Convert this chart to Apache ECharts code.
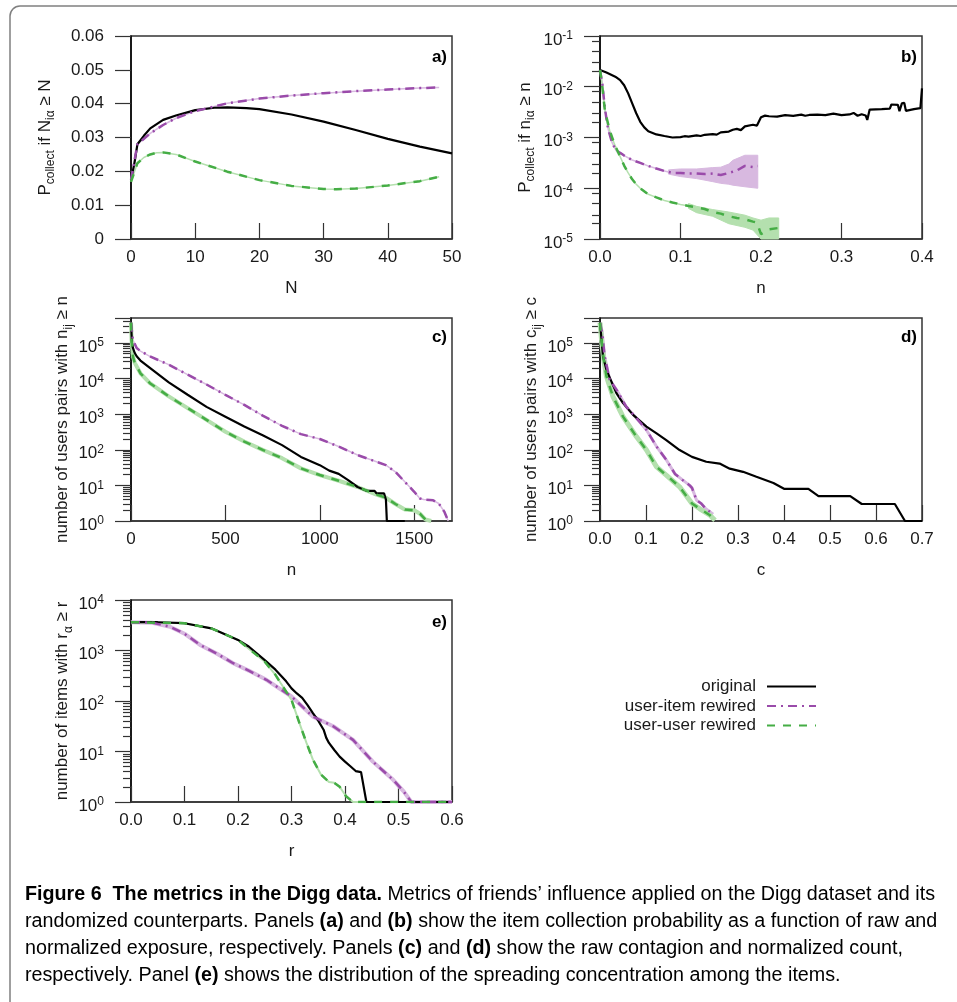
<!DOCTYPE html>
<html>
<head>
<meta charset="utf-8">
<title>Figure 6 - metrics in the Digg data</title>
<script src="https://cdn.jsdelivr.net/npm/echarts@6/dist/echarts.min.js"></script>
<style>
  html, body { margin: 0; padding: 0; background: #fff; }
  #chart { width: 957px; height: 1002px; }
</style>
</head>
<body>
<div id="chart"></div>
<script>
// ---- panel a: P_collect vs N (linear) ----
const aOriginal = [[0, 0.0175], [0.5, 0.022], [1, 0.028], [2, 0.0305], [3, 0.0327], [5, 0.0352], [7, 0.0365], [10, 0.0381], [13, 0.0388], [15, 0.0389], [18, 0.0387], [20, 0.0384], [25, 0.0368], [30, 0.0347], [35, 0.0322], [40, 0.0296], [45, 0.0273], [50, 0.0253]];
const aUserItem = [[0, 0.0175], [1, 0.028], [3, 0.0312], [5, 0.0337], [7, 0.0357], [10, 0.0378], [15, 0.0401], [20, 0.0415], [25, 0.0424], [30, 0.0431], [35, 0.0437], [40, 0.0442], [45, 0.0446], [48, 0.0448]];
const aUserUser = [[0, 0.0169], [1, 0.0224], [2, 0.0241], [3, 0.025], [4, 0.0255], [5, 0.0256], [7, 0.025], [10, 0.0229], [15, 0.0199], [20, 0.0174], [25, 0.0157], [30, 0.0148], [32, 0.0147], [35, 0.0149], [40, 0.0158], [45, 0.0171], [48, 0.0184]];

// ---- panel b: P_collect vs normalized exposure (log y) ----
const bOriginal = [[0, 0.0214], [0.008, 0.019], [0.019, 0.0158], [0.025, 0.0135], [0.03, 0.0107], [0.035, 0.0074], [0.04, 0.0047], [0.045, 0.003], [0.05, 0.00204], [0.055, 0.00158], [0.06, 0.00133], [0.07, 0.00115], [0.08, 0.00107], [0.09, 0.001], [0.1, 0.00102], [0.105, 0.00106], [0.11, 0.00104], [0.12, 0.0011], [0.125, 0.00107], [0.13, 0.00113], [0.14, 0.00117], [0.145, 0.00114], [0.15, 0.00126], [0.16, 0.00131], [0.165, 0.00142], [0.17, 0.00148], [0.175, 0.0014], [0.18, 0.00166], [0.19, 0.00178], [0.195, 0.00172], [0.2, 0.00251], [0.205, 0.0027], [0.21, 0.00262], [0.22, 0.00257], [0.23, 0.00275], [0.24, 0.00266], [0.25, 0.00282], [0.255, 0.00268], [0.26, 0.00278], [0.27, 0.00282], [0.28, 0.00275], [0.29, 0.00295], [0.3, 0.00275], [0.31, 0.00285], [0.315, 0.00305], [0.32, 0.00268], [0.325, 0.00288], [0.33, 0.00272], [0.332, 0.00222], [0.335, 0.00355], [0.35, 0.00362], [0.36, 0.00372], [0.362, 0.00447], [0.37, 0.0044], [0.372, 0.0033], [0.375, 0.0047], [0.378, 0.0048], [0.38, 0.00335], [0.39, 0.00362], [0.398, 0.0038], [0.4, 0.0093]];
const bUserItem = [[0, 0.0214], [0.003, 0.0112], [0.006, 0.0038], [0.01, 0.00148], [0.015, 7.9e-4], [0.02, 5.5e-4], [0.025, 5.0e-4], [0.03, 4.4e-4], [0.04, 3.6e-4], [0.05, 3.16e-4], [0.06, 2.75e-4], [0.07, 2.45e-4], [0.08, 2.19e-4], [0.09, 2.0e-4], [0.1, 2.0e-4], [0.11, 1.95e-4], [0.12, 1.95e-4], [0.13, 1.9e-4], [0.14, 1.95e-4], [0.15, 1.82e-4], [0.16, 2.0e-4], [0.17, 2.24e-4], [0.18, 2.75e-4], [0.19, 2.63e-4], [0.196, 2.75e-4]];
const bUserUser = [[0, 0.0214], [0.002, 0.0135], [0.006, 0.00347], [0.012, 0.00138], [0.018, 7.4e-4], [0.025, 4.2e-4], [0.03, 2.8e-4], [0.035, 2.0e-4], [0.04, 1.5e-4], [0.045, 1.2e-4], [0.05, 1.0e-4], [0.06, 7.6e-5], [0.07, 6.6e-5], [0.08, 5.75e-5], [0.09, 5.25e-5], [0.1, 4.8e-5], [0.11, 4.47e-5], [0.12, 4.17e-5], [0.13, 3.9e-5], [0.14, 3.4e-5], [0.15, 3.16e-5], [0.16, 2.8e-5], [0.17, 2.6e-5], [0.18, 2.45e-5], [0.19, 2.2e-5], [0.195, 2.1e-5], [0.2, 1.25e-5], [0.205, 1.4e-5], [0.21, 1.55e-5], [0.222, 1.65e-5]];
// error bands [n, low, high]
const bUserItemBand = [[0.085, 1.9e-4, 2.3e-4], [0.1, 1.7e-4, 2.4e-4], [0.12, 1.55e-4, 2.4e-4], [0.14, 1.35e-4, 2.55e-4], [0.15, 1.25e-4, 2.6e-4], [0.16, 1.2e-4, 3.0e-4], [0.165, 1.15e-4, 3.55e-4], [0.18, 1.07e-4, 4.47e-4], [0.196, 1.0e-4, 4.47e-4]];
const bUserUserBand = [[0.11, 4.0e-5, 5.0e-5], [0.12, 3.3e-5, 4.4e-5], [0.14, 2.8e-5, 3.8e-5], [0.16, 2.0e-5, 3.4e-5], [0.18, 1.7e-5, 2.95e-5], [0.19, 1.5e-5, 2.6e-5], [0.2, 1.0e-5, 2.35e-5], [0.21, 1.0e-5, 2.6e-5], [0.222, 1.0e-5, 2.6e-5]];

// ---- panel c: pairs with n_ij >= n (log y) ----
const cOriginal = [[0, 3.7e5], [5, 1e5], [10, 7.2e4], [20, 5.2e4], [30, 4.2e4], [50, 3.2e4], [100, 2.0e4], [200, 7800], [300, 3500], [400, 1600], [500, 850], [600, 450], [700, 250], [800, 135], [900, 63], [1000, 37], [1050, 26], [1100, 21], [1150, 14], [1200, 9], [1250, 7], [1290, 7], [1300, 6], [1340, 6], [1350, 4], [1355, 1], [1450, 1]];
const cUserItem = [[0, 3.7e5], [10, 1.23e5], [30, 7.2e4], [50, 5.9e4], [100, 4.2e4], [200, 2.45e4], [300, 1.29e4], [400, 6800], [500, 3470], [600, 1820], [700, 890], [800, 470], [900, 275], [1000, 200], [1100, 123], [1200, 71], [1300, 46], [1350, 37], [1400, 24], [1450, 12.6], [1500, 6.6], [1530, 4.3], [1550, 4.0], [1600, 3.8], [1630, 3.1], [1660, 1.8], [1680, 1]];
const cUserUser = [[0, 3.7e5], [3, 1.2e5], [10, 4.2e4], [20, 2.75e4], [50, 1.4e4], [100, 7400], [200, 3160], [300, 1480], [400, 690], [500, 320], [600, 170], [700, 98], [800, 58], [900, 30], [1000, 19.5], [1100, 13.5], [1200, 9], [1300, 5.5], [1350, 4.5], [1400, 3], [1450, 2.1], [1500, 2], [1530, 1.6], [1560, 1.1], [1590, 1]];

// ---- panel d: pairs with c_ij >= c (log y) ----
const dOriginal = [[0, 3.7e5], [0.004, 1e5], [0.0065, 4.2e4], [0.0138, 1.78e4], [0.0247, 8300], [0.0356, 3900], [0.05, 2040], [0.072, 955], [0.101, 447], [0.123, 288], [0.144, 186], [0.173, 98], [0.2, 63], [0.231, 46], [0.26, 41], [0.282, 29.5], [0.311, 24], [0.34, 17.4], [0.377, 11.7], [0.4, 8], [0.453, 8], [0.475, 5], [0.544, 5], [0.569, 3], [0.641, 3], [0.663, 1], [0.7, 1]];
const dUserItem = [[0, 3.7e5], [0.005, 1.9e5], [0.01, 4.2e4], [0.021, 9300], [0.036, 4800], [0.057, 1620], [0.079, 780], [0.101, 360], [0.123, 123], [0.145, 50], [0.163, 21], [0.18, 14], [0.195, 10], [0.2, 8.5], [0.21, 3.8], [0.22, 3.1], [0.23, 2.2], [0.246, 1.55]];
const dUserUser = [[0, 3.7e5], [0.004, 1e5], [0.008, 3.5e4], [0.014, 1.15e4], [0.028, 3160], [0.05, 850], [0.079, 235], [0.101, 98], [0.123, 33], [0.144, 19.5], [0.173, 9.1], [0.2, 3.1], [0.217, 2.2], [0.239, 1.45], [0.25, 1.05]];

// ---- panel e: items with r_alpha >= r (log y) ----
const eOriginal = [[0, 3630], [0.05, 3630], [0.1, 3470], [0.15, 2750], [0.2, 1620], [0.22, 1200], [0.25, 645], [0.27, 417], [0.29, 245], [0.3, 178], [0.31, 141], [0.32, 115], [0.33, 83], [0.34, 57.5], [0.35, 40.7], [0.36, 27], [0.365, 18.6], [0.37, 14.8], [0.38, 10.7], [0.39, 7.9], [0.4, 6.3], [0.41, 5.1], [0.42, 4.1], [0.43, 3.9], [0.44, 1], [0.6, 1]];
const eUserItem = [[0, 3630], [0.04, 3550], [0.073, 2950], [0.1, 2150], [0.129, 1290], [0.16, 870], [0.191, 560], [0.22, 400], [0.253, 263], [0.3, 123], [0.34, 49], [0.378, 31.6], [0.415, 17], [0.452, 6.3], [0.49, 2.75], [0.51, 1.6], [0.524, 1], [0.6, 1]];
const eUserUser = [[0, 3630], [0.1, 3470], [0.15, 2750], [0.2, 1620], [0.25, 600], [0.27, 330], [0.28, 224], [0.3, 105], [0.315, 36], [0.328, 14.8], [0.34, 6.9], [0.355, 3.5], [0.37, 2.5], [0.38, 2.4], [0.39, 2.0], [0.402, 1.3], [0.415, 1], [0.6, 1]];

const seriesNames = ['original', 'user-item rewired', 'user-user rewired'];

const captionLines = [
  [['Figure 6  The metrics in the Digg data.', true], [' Metrics of friends\u2019 influence applied on the Digg dataset and its', false]],
  [['randomized counterparts. Panels ', false], ['(a)', true], [' and ', false], ['(b)', true], [' show the item collection probability as a function of raw and', false]],
  [['normalized exposure, respectively. Panels ', false], ['(c)', true], [' and ', false], ['(d)', true], [' show the raw contagion and normalized count,', false]],
  [['respectively. Panel ', false], ['(e)', true], [' shows the distribution of the spreading concentration among the items.', false]]
];

// ---- styling ----
const FONT = '"Liberation Sans", Arial, sans-serif';
const CAP_FONT = '"Liberation Sans Narrow", "Liberation Sans", sans-serif';
const CAP_SIZE = 19.5;
const INK = '#1a1a1a';
const FRAME = '#333';
const BLACK = '#000000';
const PURPLE = '#9A4BAA';
const PURPLE_LIGHT = '#D8B9E0';
const GREEN = '#45AD45';
const GREEN_LIGHT = '#B4E0AE';

const gridBoxes = [
  { left: 131, top: 36, width: 321, height: 203 },
  { left: 600, top: 36, width: 322, height: 203 },
  { left: 131, top: 318, width: 321, height: 203 },
  { left: 600, top: 318, width: 322, height: 203 },
  { left: 131, top: 600, width: 321, height: 202 }
];

const subRich = {
  s: { fontSize: 12, fontFamily: FONT, color: INK, padding: [12, 0, 0, 0], lineHeight: 14 }
};
const nameStyle = { fontSize: 17, fontFamily: FONT, color: INK, lineHeight: 20, rich: subRich };
const nameStyleMixed = Object.assign({}, nameStyle, {
  rich: Object.assign({ n: { fontSize: 17, fontFamily: FONT, color: INK, lineHeight: 20 } }, subRich)
});

const powRich = {
  b: { fontSize: 17, fontFamily: FONT, color: INK, lineHeight: 17, padding: [8, 0, 0, 0] },
  p: { fontSize: 12, fontFamily: FONT, color: INK, lineHeight: 12 }
};

function powLabel(v) {
  const e = Math.log10(v);
  const r = Math.round(e);
  if (Math.abs(e - r) > 1e-6) return '';
  return '{b|10}{p|' + r + '}';
}

function xAxisOf(i, min, max, interval, name, fmt, showMax) {
  return {
    gridIndex: i, type: 'value', position: 'bottom', min: min, max: max, interval: interval,
    name: name, nameLocation: 'middle', nameGap: 41,
    nameTextStyle: { fontSize: 17, fontFamily: FONT, color: INK },
    axisLine: { show: true, onZero: false, lineStyle: { color: FRAME, width: 1.5 } },
    axisTick: { show: true, inside: true, length: 16, lineStyle: { color: FRAME, width: 1.2 } },
    axisLabel: { margin: 10, fontSize: 17, fontFamily: FONT, color: INK, formatter: fmt, showMaxLabel: showMax, hideOverlap: false },
    splitLine: { show: false }
  };
}

function yLogOf(i, min, max, name, gap) {
  return {
    gridIndex: i, type: 'log', logBase: 10, position: 'left', min: min, max: max,
    name: name, nameLocation: 'middle', nameGap: gap, nameTextStyle: nameStyle,
    axisLine: { show: true, onZero: false, lineStyle: { color: BLACK, width: 1.5 } },
    axisTick: { show: true, inside: false, length: 16, lineStyle: { color: FRAME, width: 1.2 } },
    axisLabel: { margin: 27, formatter: powLabel, rich: powRich, hideOverlap: false },
    splitLine: { show: false }
  };
}

// second, label-less axis in log10 space that only carries the minor ticks
function minorAxisOf(i, min, max, ks) {
  const lo = Math.log10(min), hi = Math.log10(max);
  const vals = [];
  for (let d = Math.floor(lo); d < hi; d++) {
    ks.forEach(k => {
      const v = d + Math.log10(k);
      if (v > lo && v < hi) vals.push(v);
    });
  }
  return {
    gridIndex: i, type: 'value', position: 'left', min: lo, max: hi,
    axisLine: { show: false },
    axisLabel: { show: false },
    splitLine: { show: false },
    axisTick: { show: true, inside: false, length: 8, customValues: vals, lineStyle: { color: FRAME, width: 1.2 } }
  };
}

const fixed1 = v => v.toFixed(1);
const plain = v => String(v);
const allMinor = [2, 3, 4, 5, 6, 7, 8, 9];

const xAxes = [
  xAxisOf(0, 0, 50, 10, 'N', plain, true),
  xAxisOf(1, 0, 0.4, 0.1, 'n', fixed1, true),
  xAxisOf(2, 0, 1700, 500, 'n', plain, false),
  xAxisOf(3, 0, 0.7, 0.1, 'c', fixed1, true),
  xAxisOf(4, 0, 0.6, 0.1, 'r', fixed1, true)
];

const yAxes = [
  {
    gridIndex: 0, type: 'value', position: 'left', min: 0, max: 0.06, interval: 0.01,
    name: '{n|P}{s|collect}{n| if N}{s|i\u03b1}{n| \u2265 N}', nameLocation: 'middle', nameGap: 76,
    nameTextStyle: nameStyleMixed,
    axisLine: { show: true, onZero: false, lineStyle: { color: BLACK, width: 1.5 } },
    axisTick: { show: true, inside: false, length: 16, lineStyle: { color: FRAME, width: 1.2 } },
    axisLabel: { margin: 27, fontSize: 17, fontFamily: FONT, color: INK, hideOverlap: false },
    splitLine: { show: false }
  },
  yLogOf(1, 1e-5, 1e-1, '{n|P}{s|collect}{n| if n}{s|i\u03b1}{n| \u2265 n}', 65),
  yLogOf(2, 1, 5e5, 'number of users pairs with n{s|ij} \u2265 n', 54),
  yLogOf(3, 1, 5e5, 'number of users pairs with c{s|ij} \u2265 c', 53),
  yLogOf(4, 1, 1e4, 'number of items with r{s|\u03b1} \u2265 r', 54),
  minorAxisOf(1, 1e-5, 1e-1, [2, 3, 5, 8]),
  minorAxisOf(2, 1, 5e5, allMinor),
  minorAxisOf(3, 1, 5e5, allMinor),
  minorAxisOf(4, 1, 1e4, allMinor)
];
yAxes[1].nameTextStyle = nameStyleMixed;

const lineStyles = [
  { color: BLACK, width: 2.2, type: 'solid' },
  { color: PURPLE, width: 2.5, type: [9, 5, 2, 5] },
  { color: GREEN, width: 2.5, type: [8, 8] }
];

function lineSeries(i, kind, data) {
  return {
    name: seriesNames[kind], type: 'line', xAxisIndex: i, yAxisIndex: i,
    data: data, showSymbol: false, symbol: 'none', z: 3 + kind,
    lineStyle: lineStyles[kind], itemStyle: { color: lineStyles[kind].color },
    silent: true, animation: false
  };
}

function shadowSeries(i, color, width, data) {
  return {
    name: 'shade', type: 'line', xAxisIndex: i, yAxisIndex: i,
    data: data, showSymbol: false, symbol: 'none', z: 2,
    lineStyle: { color: color, width: width, type: 'solid' },
    silent: true, animation: false
  };
}

function bandSeries(i, color, pts) {
  return {
    name: 'band', type: 'custom', xAxisIndex: i, yAxisIndex: i, z: 1, silent: true, animation: false,
    data: pts, encode: { x: 0, y: [1, 2] },
    renderItem: function (params, api) {
      if (params.dataIndex !== 0) return { type: 'group', children: [] };
      const upper = pts.map(p => api.coord([p[0], p[2]]));
      const lower = pts.map(p => api.coord([p[0], p[1]])).reverse();
      return {
        type: 'polygon',
        shape: { points: upper.concat(lower) },
        style: { fill: color, stroke: color, lineWidth: 1 }
      };
    }
  };
}

const panels = [
  [aOriginal, aUserItem, aUserUser],
  [bOriginal, bUserItem, bUserUser],
  [cOriginal, cUserItem, cUserUser],
  [dOriginal, dUserItem, dUserUser],
  [eOriginal, eUserItem, eUserUser]
];
const shadeWidth = [[1.5, 1.5], [1.5, 1.5], [1.5, 4], [3, 5], [4, 2]];

const series = [
  bandSeries(1, PURPLE_LIGHT, bUserItemBand),
  bandSeries(1, GREEN_LIGHT, bUserUserBand)
];
panels.forEach((p, i) => {
  series.push(shadowSeries(i, PURPLE_LIGHT, shadeWidth[i][0], p[1]));
  series.push(shadowSeries(i, GREEN_LIGHT, shadeWidth[i][1], p[2]));
  series.push(lineSeries(i, 0, p[0]));
  series.push(lineSeries(i, 1, p[1]));
  series.push(lineSeries(i, 2, p[2]));
});

// caption: measure the first line and squeeze all lines to the reference width
const measureCtx = document.createElement('canvas').getContext('2d');
function lineWidth(segs) {
  return segs.reduce((w, s) => {
    measureCtx.font = (s[1] ? 'bold ' : '') + CAP_SIZE + 'px ' + CAP_FONT;
    return w + measureCtx.measureText(s[0]).width;
  }, 0);
}
const capScale = 910 / lineWidth(captionLines[0]);
const capRich = {
  n: { fontSize: CAP_SIZE, fontFamily: CAP_FONT, color: '#231f20' },
  b: { fontSize: CAP_SIZE, fontFamily: CAP_FONT, color: '#231f20', fontWeight: 'bold' }
};
const captionGraphics = captionLines.map((segs, k) => ({
  type: 'text', x: 25, y: 895 + k * 27, scaleX: capScale, silent: true,
  style: {
    text: segs.map(s => '{' + (s[1] ? 'b' : 'n') + '|' + s[0] + '}').join(''),
    rich: capRich, align: 'left', verticalAlign: 'middle'
  }
}));

const panelTags = [['a)', 447, 57], ['b)', 917, 57], ['c)', 447, 337], ['d)', 917, 337], ['e)', 447, 622]];
const tagGraphics = panelTags.map(t => ({
  type: 'text', x: t[1], y: t[2], silent: true, z: 10,
  style: { text: t[0], fontSize: 17, fontWeight: 'bold', fontFamily: FONT, fill: '#000', align: 'right', verticalAlign: 'middle' }
}));

const chart = echarts.init(document.getElementById('chart'), null, { renderer: 'canvas' });
chart.setOption({
  backgroundColor: '#ffffff',
  animation: false,
  grid: gridBoxes.map(g => Object.assign({
    show: true, borderColor: FRAME, borderWidth: 1.5, backgroundColor: 'transparent',
    containLabel: false, outerBoundsMode: 'none'
  }, g)),
  xAxis: xAxes,
  yAxis: yAxes,
  legend: {
    data: seriesNames, selectedMode: false, orient: 'vertical', align: 'right',
    right: 140, top: 678, padding: 0, itemWidth: 49, itemHeight: 14, itemGap: 2.5,
    itemStyle: { opacity: 0 },
    textStyle: { fontSize: 17, fontFamily: FONT, color: INK, lineHeight: 17, padding: [0, 6, 0, 0] }
  },
  graphic: [
    {
      type: 'rect', silent: true, z: -1,
      shape: { x: 10, y: 6, width: 990, height: 1040, r: 10 },
      style: { fill: 'none', stroke: '#808080', lineWidth: 1.5 }
    }
  ].concat(tagGraphics, captionGraphics),
  series: series
});
</script>
</body>
</html>
